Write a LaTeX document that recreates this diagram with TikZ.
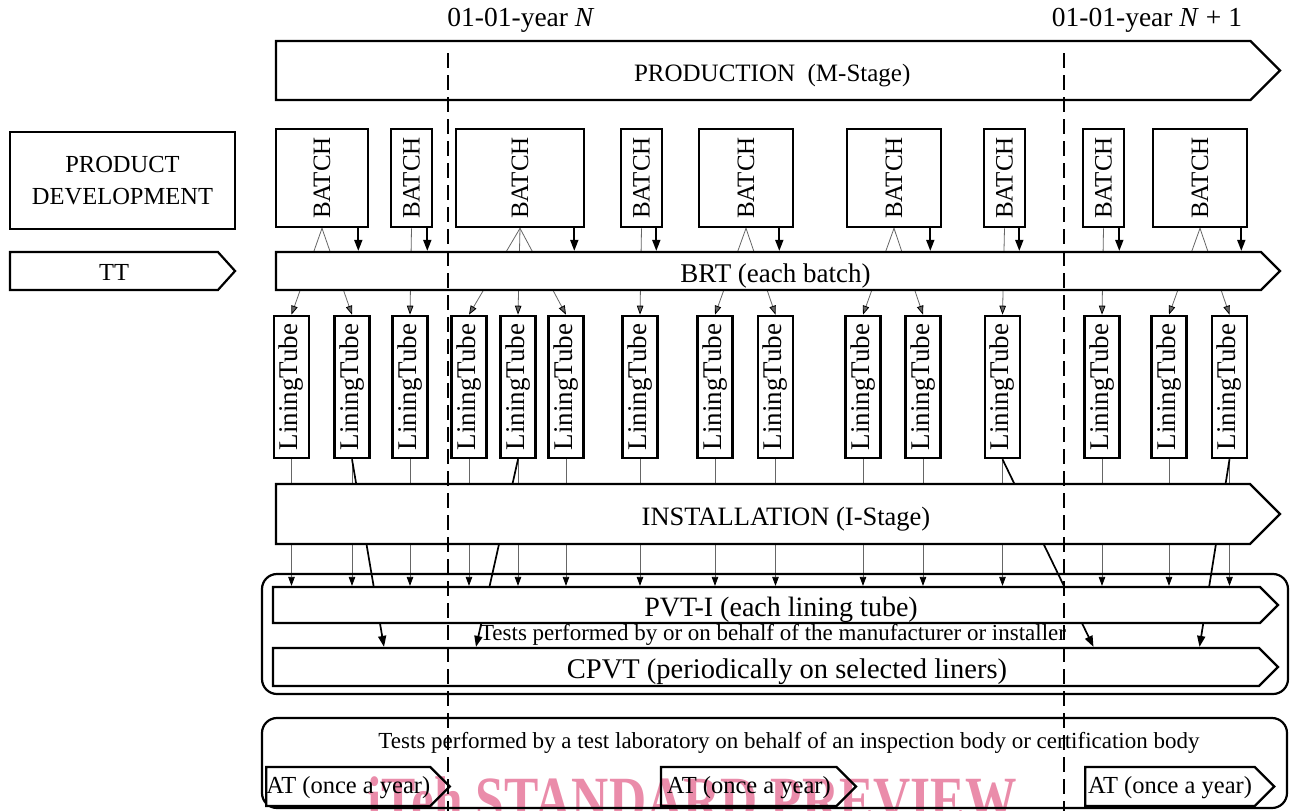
\documentclass[tikz,border=0pt]{standalone}
\usepackage{fontspec}
\setmainfont{Liberation Serif}
\usepackage{graphicx}
\usepackage{tikz}
\usetikzlibrary{arrows.meta,shapes.symbols}
\tikzset{>/.tip={Triangle[length=9pt,width=6.5pt,color=black]}}
\definecolor{wmpink}{RGB}{234,140,170}
\pgfdeclarelayer{back}
\pgfsetlayers{back,main}

\begin{document}
\begin{tikzpicture}[x=1pt,y=-1pt,
    box/.style={draw,line width=2.6pt,fill=white,inner sep=0pt},
    batch/.style={box,minimum height=98,font=\fontsize{25}{28}\selectfont},
    tube/.style={box,minimum width=35,minimum height=142,font=\fontsize{27}{30}\selectfont},
    stage/.style={signal,signal to=east,signal pointer angle=90,draw,line width=2.2pt,
      fill=white,inner sep=0pt,text height=22pt,text depth=0pt,font=\fontsize{26}{30}\selectfont},
    atstage/.style={stage,minimum height=39,text height=13pt,font=\fontsize{24.5}{28}\selectfont},
    link/.style={line width=0.8pt,black!60},
    feed/.style={line width=1.7pt,-{Triangle[length=11pt,width=8pt]}},
    yearline/.style={line width=2.2pt,dash pattern=on 15pt off 7pt},
    group/.style={line width=2.2pt,rounded corners=15pt}]
  \useasboundingbox (0,0) rectangle (1291,811);

  \node[font=\fontsize{27.5}{30}\selectfont](yN) at (521,20){01-01-year \textit{N}};
  \node[font=\fontsize{27.5}{30}\selectfont](yN1) at (1147,20){01-01-year \textit{N} + 1};

  \draw[group] (262,574) rectangle (1288,694);
  \draw[group] (262,718) rectangle (1287,808);

  \node[box,minimum width=225,minimum height=97,align=center,
    font=\fontsize{24.5}{32}\selectfont](dev) at (122.5,180.5){PRODUCT\\DEVELOPMENT};

  \foreach \n/\cx/\w in {B1/322/92,B2/411.5/41,B3/520/128,B4/641.5/41,B5/746/94,
      B6/894/94,B7/1004.5/41,B8/1103.5/41,B9/1200/94}
    \node[batch,minimum width=\w](\n) at (\cx,178){\rotatebox{90}{BATCH}};

  \foreach \n/\cx in {LT1/291.5,LT2/352,LT3/410,LT4/469,LT5/518,LT6/566,LT7/640,
      LT8/715,LT9/775.5,LT10/863,LT11/923,LT12/1002.5,LT13/1102,LT14/1169,LT15/1229.5}
    \node[tube](\n) at (\cx,387){\rotatebox{90}{LiningTube}};

  % stage arrows: centre of the body, total width includes the point
  \node[stage,minimum width=1004,minimum height=59,font=\fontsize{25}{30}\selectfont](prod)
    at (763.25,70.5){\hspace*{18pt}PRODUCTION\ \ (M-Stage)};
  \node[stage,minimum width=1004,minimum height=38,font=\fontsize{27}{30}\selectfont](brt)
    at (768.5,271){\hspace*{14pt}BRT (each batch)};
  \node[stage,signal pointer angle=96,minimum width=225,minimum height=38,text height=19pt,
    font=\fontsize{24.5}{30}\selectfont](tt) at (114,271){TT};
  \node[stage,minimum width=1004,minimum height=60,font=\fontsize{26.5}{30}\selectfont](inst)
    at (763,514){\hspace*{46pt}INSTALLATION (I-Stage)};
  \node[stage,minimum width=1005,minimum height=36,font=\fontsize{28}{30}\selectfont](pvt)
    at (766.5,605){\hspace*{29pt}PVT-I (each lining tube)};
  \node[stage,minimum width=1005,minimum height=38,font=\fontsize{28.5}{30}\selectfont](cpvt)
    at (766,667){\hspace*{42pt}CPVT (periodically on selected liners)};

  \node[font=\fontsize{23}{26}\selectfont](mtests) at (773,635)
    {Tests performed by or on behalf of the manufacturer or installer};
  \node[font=\fontsize{23}{26}\selectfont](ltests) at (789,743)
    {Tests performed by a test laboratory on behalf of an inspection body or certification body};

  \node[atstage,minimum width=180](at1) at (348.25,786.5){AT (once a year)};
  \node[atstage,minimum width=195](at2) at (748.75,786.5){AT (once a year)};
  \node[atstage,minimum width=189](at3) at (1170,786.5){AT (once a year)};

  \begin{pgfonlayer}{back}
    % batches split into lining tubes
    \path[link,->] (B1.south) edge (LT1.north) edge (LT2.north)
      (B2.south) edge (LT3.north)
      (B3.south) edge (LT4.north) edge (LT5.north) edge (LT6.north)
      (B4.south) edge (LT7.north)
      (B5.south) edge (LT8.north) edge (LT9.north)
      (B6.south) edge (LT10.north) edge (LT11.north)
      (B7.south) edge (LT12.north)
      (B8.south) edge (LT13.north)
      (B9.south) edge (LT14.north) edge (LT15.north);
    \foreach \n in {LT1,LT2,LT3,LT4,LT5,LT6,LT7,LT8,LT9,LT10,LT11,LT12,LT13,LT14,LT15}
      \draw[link,->] (\n.south) -- (\n.south |- pvt.north);
    \foreach \n/\d in {LT2/32,LT5/-42,LT12/91,LT15/-30}
      \draw[feed] (\n.south) -- ([xshift=\d]\n.south |- cpvt.north);
  \end{pgfonlayer}

  \foreach \n/\d in {B1/11,B2/6,B3/11,B4/7,B5/15,B6/12,B7/7,B8/6,B9/7}
    \draw[feed] ([xshift=-\d]\n.south east) -- ([xshift=-\d]\n.south east |- brt.north);

  \draw[yearline] (448,53) -- (448,811);
  \draw[yearline] (1064,53) -- (1064,811);

  \begin{scope}[blend mode=multiply]
    \node[anchor=base,text=wmpink,font=\bfseries\fontsize{66}{70}\selectfont](wm)
      at (692,822){\scalebox{0.78}[1]{iTeh STANDARD PREVIEW}};
  \end{scope}
\end{tikzpicture}
\end{document}
